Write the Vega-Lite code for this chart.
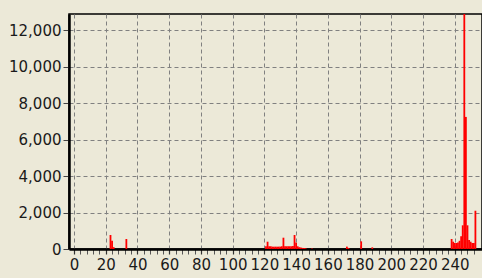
{
  "$schema": "https://vega.github.io/schema/vega-lite/v6.json",
  "width": 413,
  "height": 235,
  "autosize": {"type": "none"},
  "padding": {"left": 69, "top": 14, "right": 0, "bottom": 29},
  "background": "#ECE9D8",
  "config": {
    "view": {"stroke": "#000000", "strokeWidth": 1.5, "fill": "#ECE9D8"},
    "axis": {
      "labelFont": "DejaVu Sans",
      "labelFontSize": 15,
      "labelColor": "#1a1a1a",
      "domainColor": "#000000",
      "domainWidth": 2.5,
      "tickColor": "#444444",
      "gridColor": "#808080",
      "gridDash": [4, 3],
      "gridWidth": 1
    }
  },
  "data": {
    "values": [
      {"v": 23, "count": 770}, {"v": 24, "count": 450}, {"v": 25, "count": 100},
      {"v": 33, "count": 550},
      {"v": 121, "count": 150}, {"v": 122, "count": 400}, {"v": 123, "count": 150}, {"v": 124, "count": 150},
      {"v": 125, "count": 130}, {"v": 126, "count": 130}, {"v": 127, "count": 130}, {"v": 128, "count": 130},
      {"v": 129, "count": 130}, {"v": 130, "count": 130}, {"v": 131, "count": 150}, {"v": 132, "count": 620},
      {"v": 133, "count": 150}, {"v": 134, "count": 150}, {"v": 135, "count": 150}, {"v": 136, "count": 150},
      {"v": 137, "count": 150}, {"v": 138, "count": 160}, {"v": 139, "count": 770}, {"v": 140, "count": 350},
      {"v": 141, "count": 150}, {"v": 142, "count": 100}, {"v": 143, "count": 80}, {"v": 144, "count": 60},
      {"v": 145, "count": 50}, {"v": 146, "count": 40}, {"v": 150, "count": 30},
      {"v": 172, "count": 130}, {"v": 173, "count": 60},
      {"v": 181, "count": 420},
      {"v": 188, "count": 90},
      {"v": 238, "count": 550}, {"v": 239, "count": 400}, {"v": 240, "count": 330}, {"v": 241, "count": 330},
      {"v": 242, "count": 350}, {"v": 243, "count": 450}, {"v": 244, "count": 700}, {"v": 245, "count": 1300},
      {"v": 246, "count": 12900}, {"v": 247, "count": 7250}, {"v": 248, "count": 1300}, {"v": 249, "count": 500},
      {"v": 250, "count": 400}, {"v": 251, "count": 330}, {"v": 252, "count": 330}, {"v": 253, "count": 2100}
    ]
  },
  "mark": {"type": "bar", "color": "#FF0000", "size": 1.8, "clip": true},
  "encoding": {
    "x": {
      "field": "v", "type": "quantitative",
      "scale": {"domain": [0, 254], "nice": false, "zero": false},
      "axis": {
        "title": null,
        "values": [0, 4, 8, 12, 16, 20, 24, 28, 32, 36, 40, 44, 48, 52, 56, 60, 64, 68, 72, 76, 80, 84, 88, 92, 96, 100, 104, 108, 112, 116, 120, 124, 128, 132, 136, 140, 144, 148, 152, 156, 160, 164, 168, 172, 176, 180, 184, 188, 192, 196, 200, 204, 208, 212, 216, 220, 224, 228, 232, 236, 240, 244, 248, 252],
        "labelExpr": "datum.value % 20 === 0 ? datum.label : ''",
        "grid": true,
        "gridOpacity": {"condition": {"test": "datum.value % 20 === 0", "value": 1}, "value": 0},
        "tickSize": 5,
        "tickWidth": {"condition": {"test": "datum.value % 20 === 0", "value": 1.2}, "value": 1},
        "tickColor": {"condition": {"test": "datum.value % 20 === 0", "value": "#333333"}, "value": "#555555"},
        "labelPadding": 3,
        "labelFlush": false,
        "labelOverlap": false
      }
    },
    "y": {
      "field": "count", "type": "quantitative",
      "scale": {"domain": [0, 12900], "nice": false},
      "axis": {
        "title": null,
        "values": [0, 2000, 4000, 6000, 8000, 10000, 12000],
        "format": ",.0f",
        "grid": true,
        "tickSize": 6,
        "labelPadding": 2,
        "labelFlush": false,
        "labelOverlap": false
      }
    }
  }
}
